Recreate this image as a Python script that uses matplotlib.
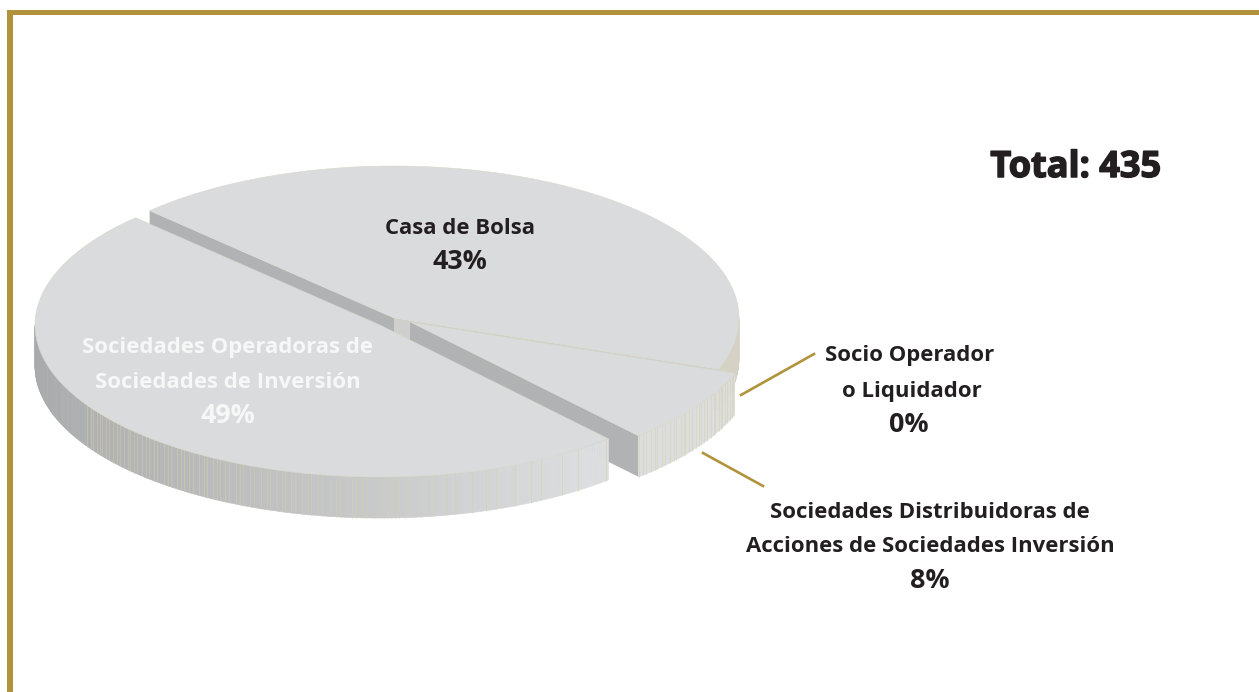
import numpy
import matplotlib
matplotlib.use('Agg')
import matplotlib.pyplot as plt
import matplotlib.patheffects as pe
from matplotlib.collections import PolyCollection
from matplotlib.patches import Polygon, Rectangle

# shares in percent, counter-clockwise from the right edge of Casa de Bolsa
slice_names = ['Casa de Bolsa', 'Sociedades Operadoras', 'Sociedades Distribuidoras', 'Socio Operador']
shares = [43, 49, 8, 0]
total = 435

start_angle = -19.7
radius_x = 345
radius_y = 152
depth = 41
centers_x = [394, 380, 410, 410]
centers_y = [318, 325, 322, 322]

TOP = '#dadbdc'
CUT = '#b1b2b4'
EDGE = '#d9d6c6'
GOLD = '#b1933c'
INK = '#231f20'
WHITE = '#f7f7f7'


def rim(cx, cy, t0, t1, n=200):
    t = numpy.radians(numpy.linspace(t0, t1, n))
    return cx + radius_x * numpy.cos(t), cy - radius_y * numpy.sin(t)


def ray(cx, cy, t):
    t = numpy.radians(t)
    return cx + radius_x * numpy.cos(t), cy - radius_y * numpy.sin(t)


def wall_colour(t):
    # dark at the far left, light towards the right of the pie
    k = numpy.clip((numpy.cos(numpy.radians(t)) + 1) / 1.6, 0, 1)
    low = numpy.array([0xa9, 0xaa, 0xac]) / 255
    high = numpy.array([0xdc, 0xdd, 0xde]) / 255
    return low + (high - low) * k


def draw_outer_wall(ax, cx, cy, t0, t1, tint=None, seams=True):
    lo = max(t0, 180)
    if t1 <= 180:
        lo = t0
    n = max(int((t1 - lo) * 2), 2)
    ts = numpy.linspace(lo, t1, n + 1)
    xs, ys = rim(cx, cy, lo, t1, n + 1)
    quads = []
    cols = []
    for i in range(n):
        quads.append([(xs[i], ys[i]), (xs[i + 1], ys[i + 1]),
                      (xs[i + 1], ys[i + 1] + depth), (xs[i], ys[i] + depth)])
        cols.append(tint if tint else wall_colour((ts[i] + ts[i + 1]) / 2))
    ax.add_collection(PolyCollection(quads, facecolors=cols, edgecolors=cols, linewidths=0.4, zorder=ax.zo))
    ax.zo += 1
    if not seams:
        return
    # thin beige seams of the original vector shading, none on the far left
    t = max(lo, 212.0)
    i = 0
    while t < t1:
        x, y = ray(cx, cy, t)
        ax.plot([x, x], [y, y + depth], color='#d8cfa8', lw=0.55, alpha=0.6, zorder=ax.zo)
        i += 1
        spread = 1 + max(0, t - 272) / 9 if lo < 300 else 1
        t += (0.45 + 0.9 * ((i * 0.618) % 1)) * spread
    ax.zo += 1


def draw_cut(ax, cx, cy, t, colour):
    x, y = ray(cx, cy, t)
    ax.add_patch(Polygon([(cx, cy), (x, y), (x, y + depth), (cx, cy + depth)],
                         closed=True, facecolor=colour, edgecolor='none', zorder=ax.zo))
    ax.zo += 1


def draw_top(ax, cx, cy, t0, t1):
    xs, ys = rim(cx, cy, t0, t1)
    pts = [(cx, cy)] + list(zip(xs, ys))
    ax.add_patch(Polygon(pts, closed=True, facecolor=TOP, edgecolor=EDGE, lw=0.35, zorder=ax.zo))
    ax.zo += 1


fig = plt.figure(figsize=(12.59, 6.92), dpi=100)
ax = fig.add_axes([0, 0, 1, 1])
ax.set_xlim(0, 1259)
ax.set_ylim(692, 0)
ax.axis('off')
ax.zo = 2

edges = start_angle + numpy.cumsum([0] + shares) * 3.6

# casa de bolsa, back of the pie
draw_outer_wall(ax, centers_x[0], centers_y[0], edges[0], 0, tint='#d5d2c5', seams=False)
draw_cut(ax, centers_x[0], centers_y[0], edges[1], CUT)
draw_cut(ax, centers_x[0], centers_y[0], edges[0], '#cfd0cd')
draw_top(ax, centers_x[0], centers_y[0], edges[0], edges[1])

# distribuidoras sits behind the front edge of operadoras
draw_cut(ax, centers_x[2], centers_y[2], edges[2], CUT)
draw_outer_wall(ax, centers_x[2], centers_y[2], edges[2], edges[3])
draw_top(ax, centers_x[2], centers_y[2], edges[2], edges[3])

# operadoras
draw_outer_wall(ax, centers_x[1], centers_y[1], edges[1], edges[2])
draw_top(ax, centers_x[1], centers_y[1], edges[1], edges[2])

# frame
ax.add_patch(Rectangle((7.5, 9.5), 1251.5, 5.5, facecolor=GOLD, edgecolor='none', zorder=20))
ax.add_patch(Rectangle((7.5, 9.5), 5.5, 682.5, facecolor=GOLD, edgecolor='none', zorder=20))

# leader lines
ax.plot([741, 814], [395, 354], color=GOLD, lw=1.9, zorder=20)
ax.plot([703, 763], [453, 486], color=GOLD, lw=1.9, zorder=20)

font = 'Open Sans'
label_size = 15.9
pct_size = 19.4


def label(x, y, s, colour=INK, size=label_size):
    ax.text(x, y, s, family=font, weight='bold', fontsize=size, color=colour, ha='center', va='center', zorder=30)


label(460, 228, 'Casa de Bolsa')
label(460, 262, '%d%%' % shares[0], size=pct_size)
label(228, 348, 'Sociedades Operadoras de', WHITE)
label(228, 383, 'Sociedades de Inversión', WHITE)
label(228, 416, '%d%%' % shares[1], WHITE, pct_size)
label(910, 356, 'Socio Operador')
label(912, 392, 'o Liquidador')
label(909, 425, '%d%%' % shares[3], size=pct_size)
label(930, 513, 'Sociedades Distribuidoras de')
label(930, 547, 'Acciones de Sociedades Inversión')
label(930, 581, '%d%%' % shares[2], size=pct_size)
# no black weight of this family is installed, so thicken the bold with a stroke
ax.text(1076, 168, 'Total: %d' % total, family=font, weight='bold', fontsize=26, color=INK, ha='center', va='center', zorder=30,
        path_effects=[pe.withStroke(linewidth=1.1, foreground=INK)])

fig.savefig('out.png', dpi=100, facecolor='white')
